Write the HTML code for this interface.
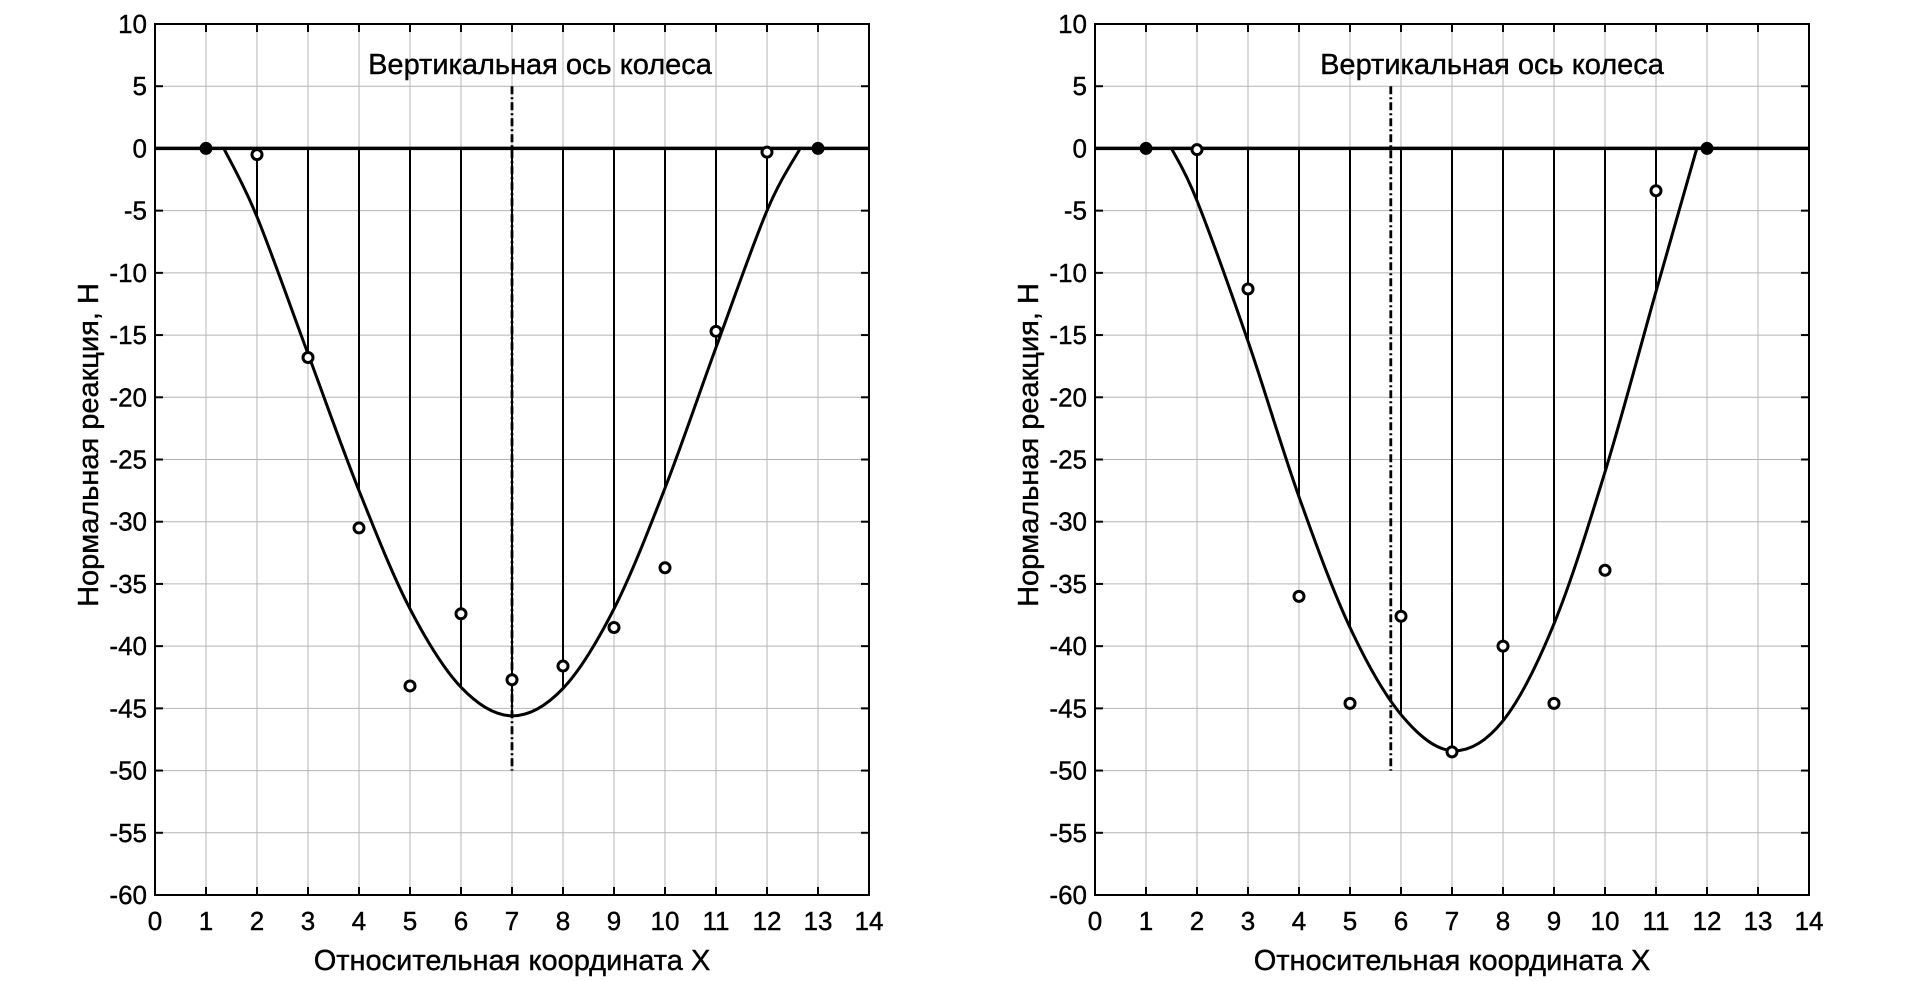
<!DOCTYPE html>
<html><head><meta charset="utf-8"><style>
html,body{margin:0;padding:0;background:#fff;}
svg{display:block;font-family:"Liberation Sans",Arial,sans-serif;}
</style></head><body>
<svg id="chart" width="1905" height="981"></svg>
<script>
const xTicks=[0,1,2,3,4,5,6,7,8,9,10,11,12,13,14];
const yTicks=[10,5,0,-5,-10,-15,-20,-25,-30,-35,-40,-45,-50,-55,-60];
const leftPointX=[1,2,3,4,5,6,7,8,9,10,11,12,13];
const leftPointY=[0,-0.5,-16.8,-30.5,-43.2,-37.4,-42.7,-41.6,-38.5,-33.7,-14.7,-0.3,0];
const leftCurveX=[1.35,2,3,4,5,6,7,8,9,10,11,12,12.65];
const leftCurveY=[0,-5.5,-16.5,-27.5,-37,-43.3,-45.6,-43.4,-37,-27.3,-16,-5,0];
const leftStemX=[2,3,4,5,6,7,8,9,10,11,12];
const leftAxisX=7;
const rightPointX=[1,2,3,4,5,6,7,8,9,10,11,12];
const rightPointY=[0,-0.1,-11.3,-36,-44.6,-37.6,-48.5,-40,-44.6,-33.9,-3.4,0];
const rightCurveX=[1.5,2,3,4,5,6,7,8,9,10,11,11.8];
const rightCurveY=[0,-4.2,-15.5,-28,-38.5,-45.5,-48.4,-46,-38.2,-26,-11.5,0];
const rightStemX=[2,3,4,5,6,7,8,9,10,11];
const rightAxisX=5.8;
const titleText="Вертикальная ось колеса";

const NS="http://www.w3.org/2000/svg";
const svg=document.getElementById('chart');
function mk(tag,attrs,parent){const e=document.createElementNS(NS,tag);for(const k in attrs)e.setAttribute(k,attrs[k]);(parent||svg).appendChild(e);return e;}

function panel(left,name,px,py,cx,cy,sx,axX){
  const top=24,bottom=895,width=714;
  const X=v=>left+v*width/14;
  const Y=v=>top+(10-v)*(bottom-top)/70;
  const g=mk('g',{});
  
  
  xTicks.forEach(t=>{const l=mk('line',{x1:X(t),x2:X(t),y1:top,y2:bottom,stroke:'#b4b4b4','stroke-width':1},g);
    });
  yTicks.forEach(t=>{const l=mk('line',{x1:left,x2:left+width,y1:Y(t),y2:Y(t),stroke:'#b4b4b4','stroke-width':1},g);
    });
  xTicks.forEach(t=>{mk('line',{x1:X(t),x2:X(t),y1:top,y2:top+8,stroke:'#000','stroke-width':2},g);mk('line',{x1:X(t),x2:X(t),y1:bottom,y2:bottom-8,stroke:'#000','stroke-width':2},g);
    const tx=mk('text',{x:X(t),y:bottom+35,'font-size':26,'text-anchor':'middle',fill:'#000',stroke:'#000','stroke-width':0.4},g);tx.textContent=t;
    });
  yTicks.forEach(t=>{mk('line',{x1:left,x2:left+8,y1:Y(t),y2:Y(t),stroke:'#000','stroke-width':2},g);mk('line',{x1:left+width,x2:left+width-8,y1:Y(t),y2:Y(t),stroke:'#000','stroke-width':2},g);
    const tx=mk('text',{x:left-8,y:Y(t)+9,'font-size':26,'text-anchor':'end',fill:'#000',stroke:'#000','stroke-width':0.4},g);tx.textContent=t;
    });
  sx.forEach(x=>{const i=cx.indexOf(x);const l=mk('line',{x1:X(x),x2:X(x),y1:Y(0),y2:Y(cy[i]),stroke:'#000','stroke-width':2},g);
    });
  const P=cx.map((x,i)=>[X(x),Y(cy[i])]);
  let d='M'+P[0][0]+','+P[0][1];
  for(let i=0;i<P.length-1;i++){const p0=P[Math.max(i-1,0)],p1=P[i],p2=P[i+1],p3=P[Math.min(i+2,P.length-1)];
    d+=` C${p1[0]+(p2[0]-p0[0])/6},${p1[1]+(p2[1]-p0[1])/6} ${p2[0]-(p3[0]-p1[0])/6},${p2[1]-(p3[1]-p1[1])/6} ${p2[0]},${p2[1]}`;}
  const c=mk('path',{d:d,fill:'none',stroke:'#000','stroke-width':3},g);
  
  const z=mk('line',{x1:left,x2:left+width,y1:Y(0),y2:Y(0),stroke:'#000','stroke-width':3.5},g);
  
  const a=mk('line',{x1:X(axX),x2:X(axX),y1:Y(5),y2:Y(-50),stroke:'#000','stroke-width':2.8,'stroke-dasharray':'8,3,2,3'},g);
  
  const tt=mk('text',{x:left+(axX===7?385:397),y:74,'font-size':29,'text-anchor':'middle',fill:'#000',stroke:'#000','stroke-width':0.4},g);
  tt.textContent=titleText;
  
  px.forEach((x,i)=>{const filled=(py[i]===0);const p=mk('circle',{cx:X(x),cy:Y(py[i]),r:5,fill:filled?'#000':'#fff',stroke:'#000','stroke-width':3},g);
    });
  const b=mk('rect',{x:left,y:top,width:width,height:bottom-top,fill:'none',stroke:'#000','stroke-width':2},g);
  
  const xl=mk('text',{x:left+width/2,y:970,'font-size':29,'text-anchor':'middle',fill:'#000',stroke:'#000','stroke-width':0.4},g);
  xl.textContent='Относительная координата X';
  
  const yl=mk('text',{x:0,y:0,'font-size':29,'text-anchor':'middle',fill:'#000',stroke:'#000','stroke-width':0.4,transform:`translate(${left-57},445) rotate(-90)`},g);
  yl.textContent='Нормальная реакция, Н';
  
}
panel(155,'left-chart',leftPointX,leftPointY,leftCurveX,leftCurveY,leftStemX,leftAxisX);
panel(1095,'right-chart',rightPointX,rightPointY,rightCurveX,rightCurveY,rightStemX,rightAxisX);
</script>
</body></html>
